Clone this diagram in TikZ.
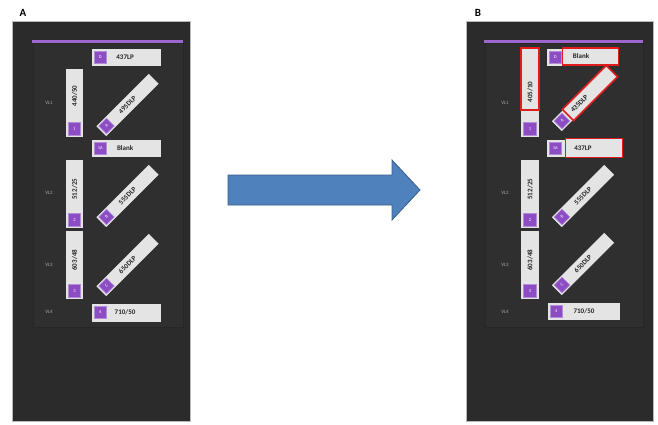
\documentclass[tikz,border=0pt]{standalone}
\usepackage{fontspec}
\setmainfont{Carlito}
\usetikzlibrary{calc}
\definecolor{panelbg}{RGB}{43,43,43}
\definecolor{innerbg}{RGB}{47,47,47}
\definecolor{filtgray}{RGB}{228,228,228}
\definecolor{slotpurple}{RGB}{140,76,196}
\definecolor{markred}{RGB}{226,28,28}
\definecolor{arrblue}{RGB}{79,129,189}
\definecolor{arrline}{RGB}{56,93,138}

\begin{document}
\begin{tikzpicture}[x=1pt,y=-1pt,
  fbox/.style={rectangle, fill=filtgray, inner sep=0pt, minimum width=69pt,
               minimum height=17pt},
  vbox/.style={fbox, rotate=90, minimum width=68pt, minimum height=17pt},
  dbox/.style={fbox, rotate=45, minimum width=74pt, minimum height=14pt},
  rbox/.style={fbox, draw=markred, line width=1.6pt},
  ftxt/.style={inner sep=0.5pt, font=\fontsize{7}{7}\selectfont\bfseries, text=black!85},
  sq/.style={rectangle, fill=slotpurple, draw=slotpurple!65!white, line width=0.6pt,
             minimum size=12.5pt, inner sep=0pt, font=\fontsize{4.5}{5}\selectfont, text=white},
  vl/.style={font=\fontsize{5}{6}\selectfont, text=gray!70},
  plab/.style={font=\fontsize{11}{12}\selectfont\bfseries}
]
\useasboundingbox (0,0) rectangle (658,424);

% Panel A
\node[plab] (lab-a) at (23,13) {A};
\filldraw[fill=panelbg, draw=gray!55] (12,21) rectangle (190,421);
\filldraw[fill=innerbg, draw=gray!30!black] (33,43) rectangle (183,327);
\draw[slotpurple!85!white, line width=3pt] (32,41) -- (183,41);

\node[fbox] (a-d) at (126.5,57.5) {};
\node[sq] (a-d-sq) at ($(a-d.west)!8.5pt!(a-d.east)$) {D};
\node[ftxt] (a-d-t) at ($(a-d.west)!0.48!(a-d.east)$) {437LP};
\node[vbox] (a-1) at (74.5,103) {};
\node[sq] (a-1-sq) at ($(a-1.west)!8.5pt!(a-1.east)$) {1};
\node[ftxt, rotate=90] (a-1-t) at ($(a-1.west)!0.6!(a-1.east)$) {440/50};
\node[dbox] (a-a) at (127.5,105) {};
\node[sq, rotate=45, minimum size=11pt] (a-a-sq) at ($(a-a.west)!7.5pt!(a-a.east)$) {A};
\node[ftxt, rotate=45] (a-a-t) at ($(a-a.west)!0.5!(a-a.east)$) {495DLP};
\node[fbox] (a-1a) at (126.5,148.5) {};
\node[sq] (a-1a-sq) at ($(a-1a.west)!8.5pt!(a-1a.east)$) {1A};
\node[ftxt] (a-1a-t) at ($(a-1a.west)!0.48!(a-1a.east)$) {Blank};

\node[vbox] (a-2) at (74.5,194) {};
\node[sq] (a-2-sq) at ($(a-2.west)!8.5pt!(a-2.east)$) {2};
\node[ftxt, rotate=90] (a-2-t) at ($(a-2.west)!0.57!(a-2.east)$) {512/25};
\node[dbox] (a-b) at (127.5,196) {};
\node[sq, rotate=45, minimum size=11pt] (a-b-sq) at ($(a-b.west)!7.5pt!(a-b.east)$) {B};
\node[ftxt, rotate=45] (a-b-t) at ($(a-b.west)!0.5!(a-b.east)$) {555DLP};

\node[vbox] (a-3) at (74.5,265) {};
\node[sq] (a-3-sq) at ($(a-3.west)!8.5pt!(a-3.east)$) {3};
\node[ftxt, rotate=90] (a-3-t) at ($(a-3.west)!0.57!(a-3.east)$) {603/48};
\node[dbox] (a-c) at (127.5,265) {};
\node[sq, rotate=45, minimum size=11pt] (a-c-sq) at ($(a-c.west)!7.5pt!(a-c.east)$) {C};
\node[ftxt, rotate=45] (a-c-t) at ($(a-c.west)!0.5!(a-c.east)$) {650DLP};

\node[fbox, minimum height=18pt] (a-4) at (126.5,312.5) {};
\node[sq] (a-4-sq) at ($(a-4.west)!8.5pt!(a-4.east)$) {4};
\node[ftxt] (a-4-t) at ($(a-4.west)!0.48!(a-4.east)$) {710/50};

\node[vl] (a-vl1) at (49,103) {VL1};
\node[vl] (a-vl2) at (49,193) {VL2};
\node[vl] (a-vl3) at (49,265) {VL3};
\node[vl] (a-vl4) at (49,312) {VL4};

% Arrow between panels
\filldraw[fill=arrblue, draw=arrline, line width=0.8pt]
  (228,175) -- (392,175) -- (392,160) -- (420,190) -- (392,220) -- (392,205) -- (228,205) -- cycle;

% Panel B
\node[plab] (lab-b) at (478,13) {B};
\filldraw[fill=panelbg, draw=gray!55] (466,21) rectangle (653,421);
\filldraw[fill=innerbg, draw=gray!30!black] (485,43) rectangle (643,327);
\draw[slotpurple!85!white, line width=3pt] (484,41) -- (643,41);

\node[fbox, minimum width=72pt] (b-d) at (583,57.5) {};
\node[sq] (b-d-sq) at ($(b-d.west)!8.5pt!(b-d.east)$) {D};
\node[rbox, minimum width=56pt, minimum height=17pt] (b-blank) at (590.5,56.5) {};
\node[ftxt] (b-blank-t) at (581,56.5) {Blank};

\node[vbox, minimum width=89pt, minimum height=18pt] (b-1) at (530,92.5) {};
\node[sq] (b-1-sq) at ($(b-1.west)!8.5pt!(b-1.east)$) {1};
\node[rbox, rotate=90, minimum width=62pt, minimum height=18pt] (b-405) at (530,79) {};
\node[ftxt, rotate=90] (b-405-t) at (530,92) {405/10};

\node[dbox] (b-a) at (583,100) {};
\node[sq, rotate=45, minimum size=11pt] (b-a-sq) at ($(b-a.west)!7.5pt!(b-a.east)$) {A};
\node[rbox, rotate=45, minimum width=62pt, minimum height=16pt] (b-435) at ($(b-a.west)!47pt!(b-a.east)$) {};
\node[ftxt, rotate=45] (b-435-t) at ($(b-a.west)!32pt!(b-a.east)$) {435DLP};

\node[fbox, minimum width=75pt] (b-1a) at (584.5,148.5) {};
\node[sq] (b-1a-sq) at ($(b-1a.west)!8.5pt!(b-1a.east)$) {1A};
\node[rbox, minimum width=57pt, minimum height=19pt] (b-437) at (594,148) {};
\node[ftxt] (b-437-t) at (583,148) {437LP};

\node[vbox, minimum height=18pt] (b-2) at (530,194) {};
\node[sq] (b-2-sq) at ($(b-2.west)!8.5pt!(b-2.east)$) {2};
\node[ftxt, rotate=90] (b-2-t) at ($(b-2.west)!0.57!(b-2.east)$) {512/25};
\node[dbox] (b-b) at (583,196) {};
\node[sq, rotate=45, minimum size=11pt] (b-b-sq) at ($(b-b.west)!7.5pt!(b-b.east)$) {B};
\node[ftxt, rotate=45] (b-b-t) at ($(b-b.west)!0.5!(b-b.east)$) {555DLP};

\node[vbox, minimum height=18pt] (b-3) at (530,265) {};
\node[sq] (b-3-sq) at ($(b-3.west)!8.5pt!(b-3.east)$) {3};
\node[ftxt, rotate=90] (b-3-t) at ($(b-3.west)!0.57!(b-3.east)$) {603/48};
\node[dbox] (b-c) at (583,264) {};
\node[sq, rotate=45, minimum size=11pt] (b-c-sq) at ($(b-c.west)!7.5pt!(b-c.east)$) {C};
\node[ftxt, rotate=45] (b-c-t) at ($(b-c.west)!0.5!(b-c.east)$) {650DLP};

\node[fbox, minimum width=72pt] (b-4) at (584,311.5) {};
\node[sq] (b-4-sq) at ($(b-4.west)!8.5pt!(b-4.east)$) {4};
\node[ftxt] (b-4-t) at ($(b-4.west)!0.5!(b-4.east)$) {710/50};

\node[vl] (b-vl1) at (505,103) {VL1};
\node[vl] (b-vl2) at (505,193) {VL2};
\node[vl] (b-vl3) at (505,265) {VL3};
\node[vl] (b-vl4) at (505,312) {VL4};
\end{tikzpicture}
\end{document}
